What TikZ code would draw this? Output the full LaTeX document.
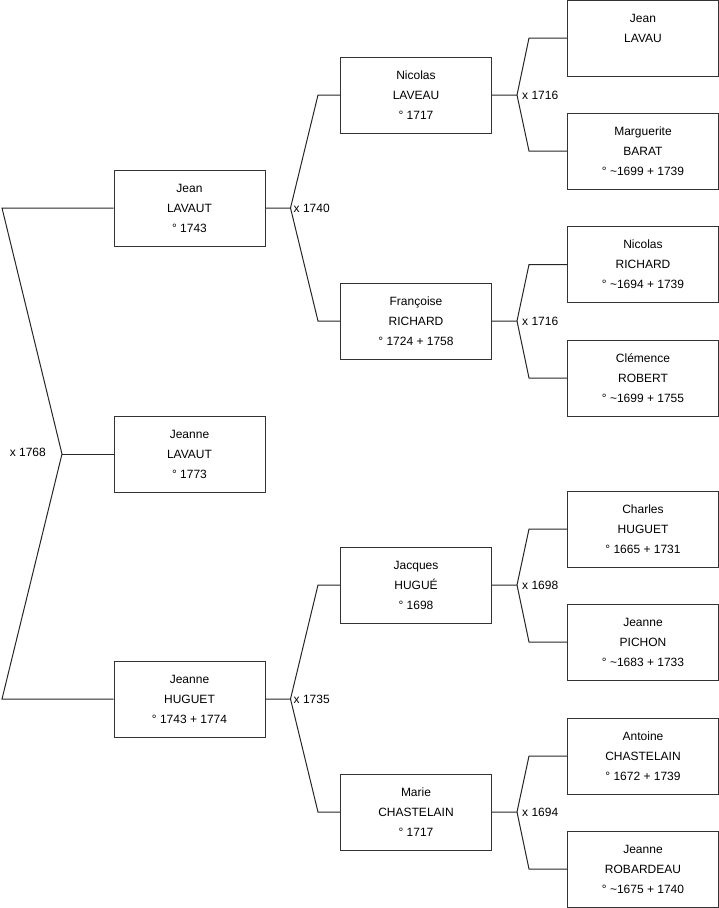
\documentclass[tikz,border=0pt]{standalone}
\usepackage{fontspec}
\setmainfont{Liberation Sans}
\usetikzlibrary{calc}
\newcommand{\forkto}[7]{%
  \coordinate (#1s) at ($(#2.east)+(25,0)$);
  \coordinate (#1a) at ($(#3.west)+(-#6,0)$);
  \coordinate (#1b) at ($(#4.west)+(-#6,0)$);
  \draw[link] (#2.east) -- (#1s) -- (#1a) -- (#3.west);
  \draw[link] (#1s) -- (#1b) -- (#4.west);
  \node[marr, anchor=west] (#1l) at ($(#1s)+(#7,0)$) {#5};}
\begin{document}
\begin{tikzpicture}[x=1pt,y=-1pt,
  person/.style={draw=black!80, line width=1pt, minimum width=151pt, minimum height=76pt,
    inner sep=0pt, align=center, font=\fontsize{12}{20}\selectfont, fill=white},
  link/.style={draw=black!85, line width=1pt},
  marr/.style={font=\fontsize{12}{14}\selectfont, inner sep=0pt}]
\useasboundingbox (0,0) rectangle (719,908);
% generation 1
\node[person] (jl)  at (189.5,208) {Jean\\LAVAUT\\° 1743};
\node[person] (jla) at (189.5,454) {Jeanne\\LAVAUT\\° 1773};
\node[person] (jh)  at (189.5,699) {Jeanne\\HUGUET\\° 1743 + 1774};
% generation 2
\node[person] (nl) at (416,95)  {Nicolas\\LAVEAU\\° 1717};
\node[person] (fr) at (416,321) {Françoise\\RICHARD\\° 1724 + 1758};
\node[person] (jhu) at (416,585) {Jacques\\HUGUÉ\\° 1698};
\node[person] (mc) at (416,812) {Marie\\CHASTELAIN\\° 1717};
% generation 3
\node[person] (jlv) at (643,38)  {Jean\\LAVAU\\\mbox{}};
\node[person] (mb)  at (643,151) {Marguerite\\BARAT\\° \textasciitilde1699 + 1739};
\node[person] (nr)  at (643,264.5) {Nicolas\\RICHARD\\° \textasciitilde1694 + 1739};
\node[person] (cr)  at (643,378) {Clémence\\ROBERT\\° \textasciitilde1699 + 1755};
\node[person] (ch)  at (643,529) {Charles\\HUGUET\\° 1665 + 1731};
\node[person] (jp)  at (643,642) {Jeanne\\PICHON\\° \textasciitilde1683 + 1733};
\node[person] (ac)  at (643,756) {Antoine\\CHASTELAIN\\° 1672 + 1739};
\node[person] (jr)  at (643,869) {Jeanne\\ROBARDEAU\\° \textasciitilde1675 + 1740};
% left fork
\coordinate (m0) at (62,454);
\coordinate (l1) at (2,208);
\coordinate (l2) at (2,699);
\draw[link] (jl.west) -- (l1) -- (m0) -- (l2) -- (jh.west);
\draw[link] (m0) -- (jla.west);
\node[marr, anchor=east] (x1768) at (46,452) {x 1768};
% forks
\forkto{fa}{jl}{nl}{fr}{x 1740}{22}{3}
\forkto{fb}{jh}{jhu}{mc}{x 1735}{22}{3}
\forkto{fc}{nl}{jlv}{mb}{x 1716}{38}{5}
\forkto{fd}{fr}{nr}{cr}{x 1716}{38}{5}
\forkto{fe}{jhu}{ch}{jp}{x 1698}{38}{5}
\forkto{ff}{mc}{ac}{jr}{x 1694}{38}{5}
\end{tikzpicture}
\end{document}
